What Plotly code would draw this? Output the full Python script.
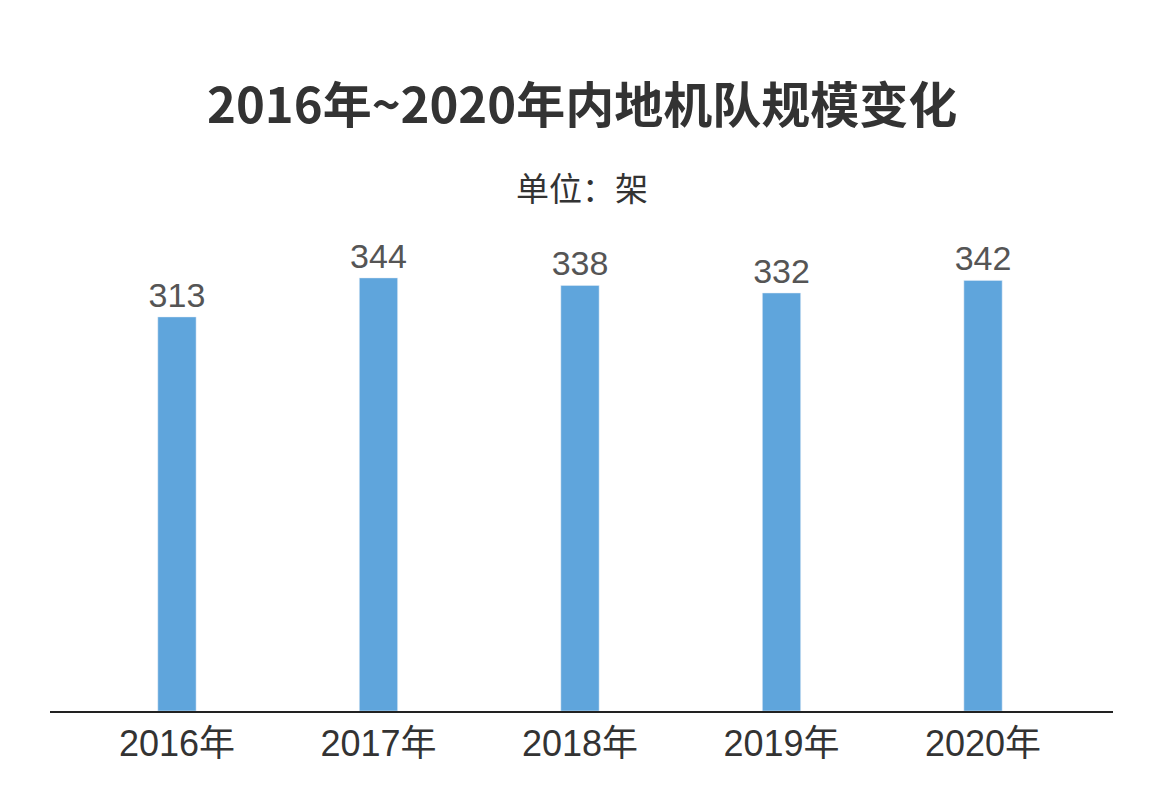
import plotly.graph_objects as go

years = ["2016年", "2017年", "2018年", "2019年", "2020年"]
fleet = [313, 344, 338, 332, 342]

fig = go.Figure()
fig.add_trace(go.Bar(
    x=list(range(len(years))),
    y=fleet,
    width=0.19,
    marker_color="#5fa5dc",
    text=[str(v) for v in fleet],
    textposition="outside",
    constraintext="none",
    textfont=dict(size=34, color="#555", family="Liberation Sans, Noto Sans CJK SC"),
    cliponaxis=False,
))

fig.update_layout(
    width=1158, height=788,
    margin=dict(l=42, r=53, t=217, b=85),
    paper_bgcolor="white", plot_bgcolor="white",
    font=dict(family="Noto Sans CJK SC", color="#333"),
    showlegend=False,
    xaxis=dict(
        tickmode="array", tickvals=list(range(len(years))), ticktext=years,
        range=[-0.63, 4.645], showline=True, linecolor="#222", linewidth=1.5,
        ticks="", tickfont=dict(size=36, color="#333", family="Liberation Sans, Noto Sans CJK SC"),
        showgrid=False,
    ),
    yaxis=dict(range=[0, 386], visible=False, showgrid=False),
    annotations=[
        dict(text="<b>2016年~2020年内地机队规模变化</b>", x=0.5, xref="paper", yref="paper",
             showarrow=False, font=dict(size=49, color="#333")),
        dict(text="单位：架", x=0.5, xref="paper", yref="paper",
             showarrow=False, font=dict(size=33, color="#333")),
    ],
)
ph = 788 - 217 - 85
for a, py in zip(fig.layout.annotations, [56, 153]):
    a.y = (788 - 85 - py) / ph

fig.write_html("out.html")
